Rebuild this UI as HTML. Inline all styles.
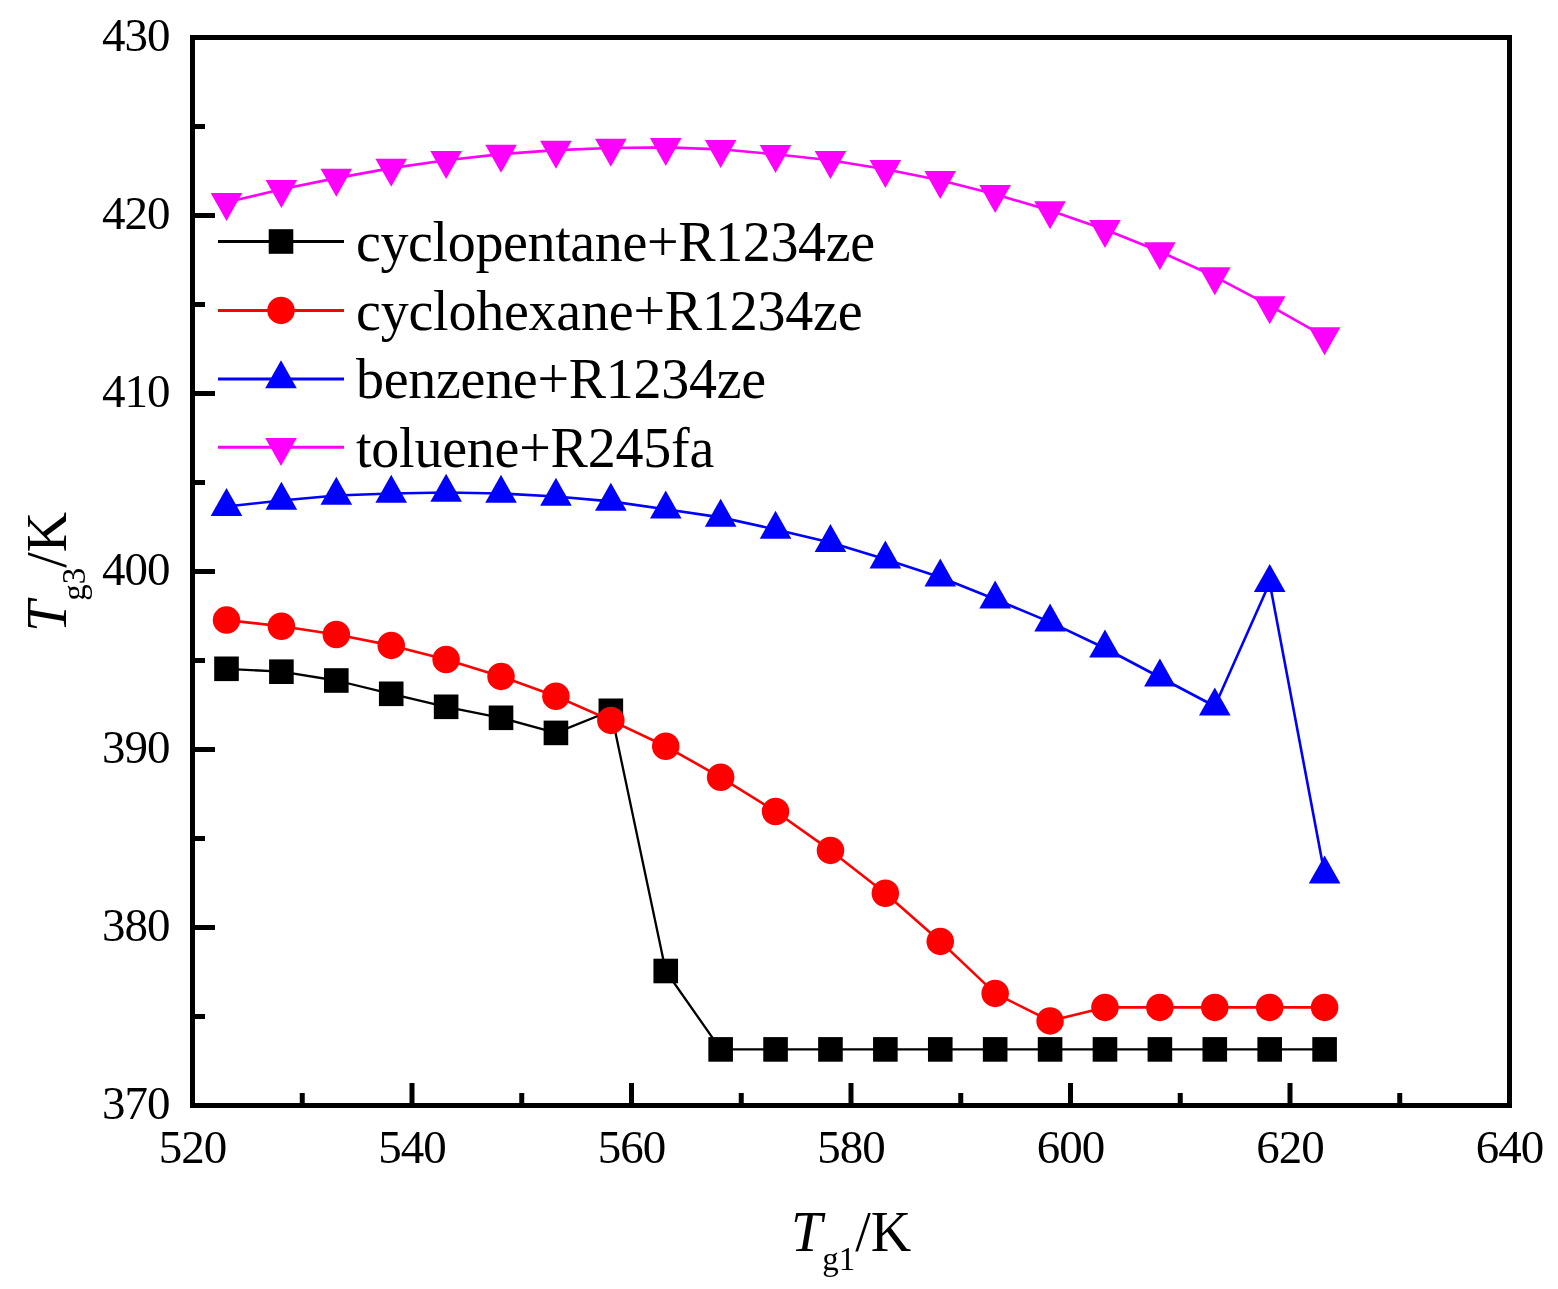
<!DOCTYPE html>
<html><head><meta charset="utf-8"><title>Tg3 vs Tg1</title>
<style>
html,body{margin:0;padding:0;background:#fff;}
body{width:1558px;height:1289px;overflow:hidden;}
svg{display:block;}
text{font-family:"Liberation Serif","Times New Roman",serif;fill:#000;}
.tk{font-size:47px;letter-spacing:-1px;}
.tt{font-size:56px;}
.leg{font-size:56px;}
</style></head>
<body>
<svg width="1558" height="1289" viewBox="0 0 1558 1289">
<rect width="1558" height="1289" fill="#fff"/>
<polyline points="226.5,668.8 281.4,671.7 336.31,680.5 391.22,693.8 446.12,706.8 501.02,717.8 555.93,732.9 610.84,710.8 665.74,971 720.64,1049.4 775.55,1049.4 830.46,1049.4 885.36,1049.4 940.26,1049.4 995.17,1049.4 1050.08,1049.4 1104.98,1049.4 1159.88,1049.4 1214.79,1049.4 1269.69,1049.4 1324.6,1049.4" fill="none" stroke="#000" stroke-width="2.3" stroke-linejoin="round"/>
<rect x="214.2" y="656.5" width="24.6" height="24.6" fill="#000"/>
<rect x="269.1" y="659.4" width="24.6" height="24.6" fill="#000"/>
<rect x="324.01" y="668.2" width="24.6" height="24.6" fill="#000"/>
<rect x="378.92" y="681.5" width="24.6" height="24.6" fill="#000"/>
<rect x="433.82" y="694.5" width="24.6" height="24.6" fill="#000"/>
<rect x="488.72" y="705.5" width="24.6" height="24.6" fill="#000"/>
<rect x="543.63" y="720.6" width="24.6" height="24.6" fill="#000"/>
<rect x="598.54" y="698.5" width="24.6" height="24.6" fill="#000"/>
<rect x="653.44" y="958.7" width="24.6" height="24.6" fill="#000"/>
<rect x="708.35" y="1037.1" width="24.6" height="24.6" fill="#000"/>
<rect x="763.25" y="1037.1" width="24.6" height="24.6" fill="#000"/>
<rect x="818.16" y="1037.1" width="24.6" height="24.6" fill="#000"/>
<rect x="873.06" y="1037.1" width="24.6" height="24.6" fill="#000"/>
<rect x="927.97" y="1037.1" width="24.6" height="24.6" fill="#000"/>
<rect x="982.87" y="1037.1" width="24.6" height="24.6" fill="#000"/>
<rect x="1037.78" y="1037.1" width="24.6" height="24.6" fill="#000"/>
<rect x="1092.68" y="1037.1" width="24.6" height="24.6" fill="#000"/>
<rect x="1147.59" y="1037.1" width="24.6" height="24.6" fill="#000"/>
<rect x="1202.49" y="1037.1" width="24.6" height="24.6" fill="#000"/>
<rect x="1257.39" y="1037.1" width="24.6" height="24.6" fill="#000"/>
<rect x="1312.3" y="1037.1" width="24.6" height="24.6" fill="#000"/>
<polyline points="226.5,620.1 281.4,626.2 336.31,634.5 391.22,645.4 446.12,659.5 501.02,676.4 555.93,696.3 610.84,720.4 665.74,746.3 720.64,777.3 775.55,811.5 830.46,850.4 885.36,893.3 940.26,941.4 995.17,993.4 1050.08,1020.9 1104.98,1007.4 1159.88,1007.4 1214.79,1007.4 1269.69,1007.4 1324.6,1007.4" fill="none" stroke="#f00" stroke-width="2.6" stroke-linejoin="round"/>
<circle cx="226.5" cy="620.1" r="13.75" fill="#f00"/>
<circle cx="281.4" cy="626.2" r="13.75" fill="#f00"/>
<circle cx="336.31" cy="634.5" r="13.75" fill="#f00"/>
<circle cx="391.22" cy="645.4" r="13.75" fill="#f00"/>
<circle cx="446.12" cy="659.5" r="13.75" fill="#f00"/>
<circle cx="501.02" cy="676.4" r="13.75" fill="#f00"/>
<circle cx="555.93" cy="696.3" r="13.75" fill="#f00"/>
<circle cx="610.84" cy="720.4" r="13.75" fill="#f00"/>
<circle cx="665.74" cy="746.3" r="13.75" fill="#f00"/>
<circle cx="720.64" cy="777.3" r="13.75" fill="#f00"/>
<circle cx="775.55" cy="811.5" r="13.75" fill="#f00"/>
<circle cx="830.46" cy="850.4" r="13.75" fill="#f00"/>
<circle cx="885.36" cy="893.3" r="13.75" fill="#f00"/>
<circle cx="940.26" cy="941.4" r="13.75" fill="#f00"/>
<circle cx="995.17" cy="993.4" r="13.75" fill="#f00"/>
<circle cx="1050.08" cy="1020.9" r="13.75" fill="#f00"/>
<circle cx="1104.98" cy="1007.4" r="13.75" fill="#f00"/>
<circle cx="1159.88" cy="1007.4" r="13.75" fill="#f00"/>
<circle cx="1214.79" cy="1007.4" r="13.75" fill="#f00"/>
<circle cx="1269.69" cy="1007.4" r="13.75" fill="#f00"/>
<circle cx="1324.6" cy="1007.4" r="13.75" fill="#f00"/>
<polyline points="226.5,506.57 281.4,500.47 336.31,495.47 391.22,493.47 446.12,492.47 501.02,493.47 555.93,496.47 610.84,501.37 665.74,509.27 720.64,517.37 775.55,529.47 830.46,542.57 885.36,559.27 940.26,577.27 995.17,599.17 1050.08,622.17 1104.98,648.27 1159.88,677.27 1214.79,706.27 1269.69,582.67 1324.6,874.17" fill="none" stroke="#00f" stroke-width="2.6" stroke-linejoin="round"/>
<polygon points="226.5,487.9 242.3,515.9 210.7,515.9" fill="#00f"/>
<polygon points="281.4,481.8 297.2,509.8 265.6,509.8" fill="#00f"/>
<polygon points="336.31,476.8 352.11,504.8 320.51,504.8" fill="#00f"/>
<polygon points="391.22,474.8 407.02,502.8 375.42,502.8" fill="#00f"/>
<polygon points="446.12,473.8 461.92,501.8 430.32,501.8" fill="#00f"/>
<polygon points="501.02,474.8 516.82,502.8 485.22,502.8" fill="#00f"/>
<polygon points="555.93,477.8 571.73,505.8 540.13,505.8" fill="#00f"/>
<polygon points="610.84,482.7 626.63,510.7 595.04,510.7" fill="#00f"/>
<polygon points="665.74,490.6 681.54,518.6 649.94,518.6" fill="#00f"/>
<polygon points="720.64,498.7 736.44,526.7 704.85,526.7" fill="#00f"/>
<polygon points="775.55,510.8 791.35,538.8 759.75,538.8" fill="#00f"/>
<polygon points="830.46,523.9 846.25,551.9 814.66,551.9" fill="#00f"/>
<polygon points="885.36,540.6 901.16,568.6 869.56,568.6" fill="#00f"/>
<polygon points="940.26,558.6 956.06,586.6 924.47,586.6" fill="#00f"/>
<polygon points="995.17,580.5 1010.97,608.5 979.37,608.5" fill="#00f"/>
<polygon points="1050.08,603.5 1065.88,631.5 1034.28,631.5" fill="#00f"/>
<polygon points="1104.98,629.6 1120.78,657.6 1089.18,657.6" fill="#00f"/>
<polygon points="1159.88,658.6 1175.68,686.6 1144.09,686.6" fill="#00f"/>
<polygon points="1214.79,687.6 1230.59,715.6 1198.99,715.6" fill="#00f"/>
<polygon points="1269.69,564 1285.49,592 1253.89,592" fill="#00f"/>
<polygon points="1324.6,855.5 1340.4,883.5 1308.8,883.5" fill="#00f"/>
<polyline points="226.5,202.33 281.4,189.33 336.31,178.13 391.22,168.13 446.12,160.33 501.02,154.13 555.93,150.13 610.84,148.03 665.74,147.33 720.64,149.33 775.55,154.33 830.46,160.23 885.36,169.33 940.26,180.33 995.17,194.33 1050.08,210.53 1104.98,229.43 1159.88,251.53 1214.79,276.53 1269.69,305.63 1324.6,336.53" fill="none" stroke="#f0f" stroke-width="2.6" stroke-linejoin="round"/>
<polygon points="210.7,193 242.3,193 226.5,221" fill="#f0f"/>
<polygon points="265.6,180 297.2,180 281.4,208" fill="#f0f"/>
<polygon points="320.51,168.8 352.11,168.8 336.31,196.8" fill="#f0f"/>
<polygon points="375.42,158.8 407.02,158.8 391.22,186.8" fill="#f0f"/>
<polygon points="430.32,151 461.92,151 446.12,179" fill="#f0f"/>
<polygon points="485.22,144.8 516.82,144.8 501.02,172.8" fill="#f0f"/>
<polygon points="540.13,140.8 571.73,140.8 555.93,168.8" fill="#f0f"/>
<polygon points="595.04,138.7 626.63,138.7 610.84,166.7" fill="#f0f"/>
<polygon points="649.94,138 681.54,138 665.74,166" fill="#f0f"/>
<polygon points="704.85,140 736.44,140 720.64,168" fill="#f0f"/>
<polygon points="759.75,145 791.35,145 775.55,173" fill="#f0f"/>
<polygon points="814.66,150.9 846.25,150.9 830.46,178.9" fill="#f0f"/>
<polygon points="869.56,160 901.16,160 885.36,188" fill="#f0f"/>
<polygon points="924.47,171 956.06,171 940.26,199" fill="#f0f"/>
<polygon points="979.37,185 1010.97,185 995.17,213" fill="#f0f"/>
<polygon points="1034.28,201.2 1065.88,201.2 1050.08,229.2" fill="#f0f"/>
<polygon points="1089.18,220.1 1120.78,220.1 1104.98,248.1" fill="#f0f"/>
<polygon points="1144.09,242.2 1175.68,242.2 1159.88,270.2" fill="#f0f"/>
<polygon points="1198.99,267.2 1230.59,267.2 1214.79,295.2" fill="#f0f"/>
<polygon points="1253.89,296.3 1285.49,296.3 1269.69,324.3" fill="#f0f"/>
<polygon points="1308.8,327.2 1340.4,327.2 1324.6,355.2" fill="#f0f"/>
<line x1="218" y1="241.5" x2="344" y2="241.5" stroke="#000" stroke-width="3"/>
<rect x="268.7" y="229.2" width="24.6" height="24.6" fill="#000"/>
<text x="356" y="260.8" class="leg" textLength="519.0" lengthAdjust="spacing">cyclopentane+R1234ze</text>
<line x1="218" y1="310.4" x2="344" y2="310.4" stroke="#f00" stroke-width="3"/>
<circle cx="281" cy="310.4" r="13.75" fill="#f00"/>
<text x="356" y="329.7" class="leg" textLength="506.5" lengthAdjust="spacing">cyclohexane+R1234ze</text>
<line x1="218" y1="379.0" x2="344" y2="379.0" stroke="#00f" stroke-width="3"/>
<polygon points="281,360.33 296.8,388.33 265.2,388.33" fill="#00f"/>
<text x="356" y="398.3" class="leg" textLength="410.1" lengthAdjust="spacing">benzene+R1234ze</text>
<line x1="218" y1="447.3" x2="344" y2="447.3" stroke="#f0f" stroke-width="3"/>
<polygon points="265.2,437.97 296.8,437.97 281,465.97" fill="#f0f"/>
<text x="356" y="466.6" class="leg" textLength="358.3" lengthAdjust="spacing">toluene+R245fa</text>
<rect x="192.5" y="37.5" width="1317" height="1068" fill="none" stroke="#000" stroke-width="5"/>
<line x1="190" y1="1016.5" x2="205" y2="1016.5" stroke="#000" stroke-width="5"/>
<line x1="190" y1="927.5" x2="215" y2="927.5" stroke="#000" stroke-width="5"/>
<line x1="190" y1="838.5" x2="205" y2="838.5" stroke="#000" stroke-width="5"/>
<line x1="190" y1="749.5" x2="215" y2="749.5" stroke="#000" stroke-width="5"/>
<line x1="190" y1="660.5" x2="205" y2="660.5" stroke="#000" stroke-width="5"/>
<line x1="190" y1="571.5" x2="215" y2="571.5" stroke="#000" stroke-width="5"/>
<line x1="190" y1="482.5" x2="205" y2="482.5" stroke="#000" stroke-width="5"/>
<line x1="190" y1="393.5" x2="215" y2="393.5" stroke="#000" stroke-width="5"/>
<line x1="190" y1="304.5" x2="205" y2="304.5" stroke="#000" stroke-width="5"/>
<line x1="190" y1="215.5" x2="215" y2="215.5" stroke="#000" stroke-width="5"/>
<line x1="190" y1="126.5" x2="205" y2="126.5" stroke="#000" stroke-width="5"/>
<line x1="302.25" y1="1108" x2="302.25" y2="1093" stroke="#000" stroke-width="5"/>
<line x1="412" y1="1108" x2="412" y2="1083" stroke="#000" stroke-width="5"/>
<line x1="521.75" y1="1108" x2="521.75" y2="1093" stroke="#000" stroke-width="5"/>
<line x1="631.5" y1="1108" x2="631.5" y2="1083" stroke="#000" stroke-width="5"/>
<line x1="741.25" y1="1108" x2="741.25" y2="1093" stroke="#000" stroke-width="5"/>
<line x1="851" y1="1108" x2="851" y2="1083" stroke="#000" stroke-width="5"/>
<line x1="960.75" y1="1108" x2="960.75" y2="1093" stroke="#000" stroke-width="5"/>
<line x1="1070.5" y1="1108" x2="1070.5" y2="1083" stroke="#000" stroke-width="5"/>
<line x1="1180.25" y1="1108" x2="1180.25" y2="1093" stroke="#000" stroke-width="5"/>
<line x1="1290" y1="1108" x2="1290" y2="1083" stroke="#000" stroke-width="5"/>
<line x1="1399.75" y1="1108" x2="1399.75" y2="1093" stroke="#000" stroke-width="5"/>
<text x="169.5" y="1119" class="tk" text-anchor="end">370</text>
<text x="169.5" y="941" class="tk" text-anchor="end">380</text>
<text x="169.5" y="763" class="tk" text-anchor="end">390</text>
<text x="169.5" y="585" class="tk" text-anchor="end">400</text>
<text x="169.5" y="407" class="tk" text-anchor="end">410</text>
<text x="169.5" y="229" class="tk" text-anchor="end">420</text>
<text x="169.5" y="51" class="tk" text-anchor="end">430</text>
<text x="192.5" y="1163" class="tk" text-anchor="middle">520</text>
<text x="412" y="1163" class="tk" text-anchor="middle">540</text>
<text x="631.5" y="1163" class="tk" text-anchor="middle">560</text>
<text x="851" y="1163" class="tk" text-anchor="middle">580</text>
<text x="1070.5" y="1163" class="tk" text-anchor="middle">600</text>
<text x="1290" y="1163" class="tk" text-anchor="middle">620</text>
<text x="1509.5" y="1163" class="tk" text-anchor="middle">640</text>
<text x="791" y="1251" class="tt"><tspan font-style="italic">T</tspan><tspan font-size="33" dy="19">g1</tspan><tspan dy="-19">/K</tspan></text>
<text transform="translate(65.5,632) rotate(-90)" x="0" y="0" class="tt"><tspan font-style="italic">T</tspan><tspan font-size="33" dy="19">g3</tspan><tspan dy="-19">/K</tspan></text>
</svg>
</body></html>
